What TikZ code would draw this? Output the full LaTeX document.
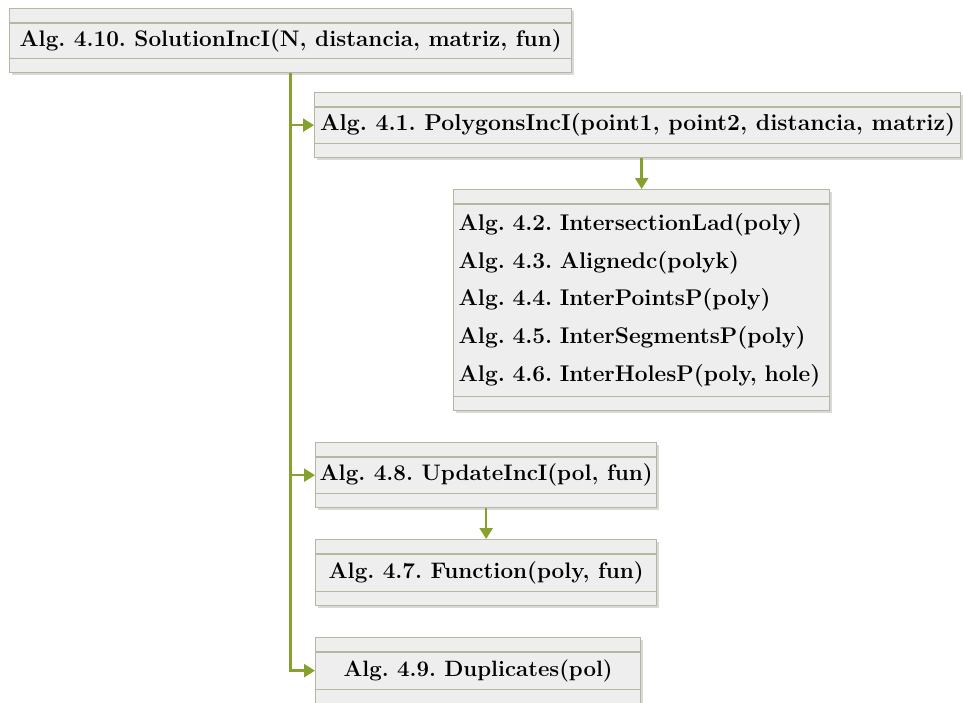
\documentclass[tikz,border=0pt]{standalone}
\usepackage{fontspec}
\usepackage{graphicx}
\usetikzlibrary{arrows.meta,shadows}
\definecolor{boxfill}{HTML}{EEEEEE}
\definecolor{boxline}{HTML}{B4B89E}
\definecolor{linkgreen}{HTML}{86A12E}
\tikzset{
  algbox/.style={draw=boxline, line width=1.3pt, fill=boxfill, rectangle,
    anchor=north west, inner sep=0pt,
    drop shadow={shadow xshift=2pt, shadow yshift=-2.5pt, opacity=0.25, fill=black!60},
    font=\fontsize{22.5}{27}\selectfont\bfseries\frenchspacing},
  divider/.style={draw=boxline, line width=1.3pt},
  link/.style={draw=linkgreen, line width=2.4pt,
    -{Triangle[length=11pt, width=13pt]}}
}
% a one-line label set to a given width
\newcommand{\fitlabel}[2]{\resizebox{#1}{!}{#2}}
% the two empty bands at the top and bottom of a box
\newcommand{\bands}[1]{%
  \draw[divider] ([yshift=-15pt]#1.north west) -- ([yshift=-15pt]#1.north east);
  \draw[divider] ([yshift=15pt]#1.south west) -- ([yshift=15pt]#1.south east);}
\begin{document}
\begin{tikzpicture}[x=1pt,y=-1pt]
  \useasboundingbox (0,0) rectangle (963,702);

  % boxes
  \node[algbox, minimum width=562pt, minimum height=64pt] (b1) at (9,8)
    {\fitlabel{542pt}{Alg. 4.10. SolutionIncI(N, distancia, matriz, fun)}};
  \node[algbox, minimum width=646pt, minimum height=65pt] (b2) at (314,92)
    {\fitlabel{635pt}{Alg. 4.1. PolygonsIncI(point1, point2, distancia, matriz)}};
  \node[algbox, minimum width=376pt, minimum height=221pt, align=left,
        text width=366pt, inner xsep=5pt,
        font=\fontsize{22.7}{37.7}\selectfont\bfseries\frenchspacing] (b3) at (453,189)
    {Alg. 4.2. IntersectionLad(poly)\\
     Alg. 4.3. Alignedc(polyk)\\
     Alg. 4.4. InterPointsP(poly)\\
     Alg. 4.5. InterSegmentsP(poly)\\
     Alg. 4.6. InterHolesP(poly, hole)};
  \node[algbox, minimum width=341pt, minimum height=65pt] (b4) at (315,442)
    {\fitlabel{333pt}{Alg. 4.8. UpdateIncI(pol, fun)}};
  \node[algbox, minimum width=341pt, minimum height=66pt] (b5) at (315,539)
    {\fitlabel{315pt}{Alg. 4.7. Function(poly, fun)}};
  \node[algbox, minimum width=325pt, minimum height=66pt] (b6) at (315,637)
    {\fitlabel{269pt}{Alg. 4.9. Duplicates(pol)}};

  \bands{b1}\bands{b2}\bands{b3}\bands{b4}\bands{b5}\bands{b6}

  % connectors
  \draw[link] (b1.south) |- (b2.west);
  \draw[link] (b1.south) |- (b4.west);
  \draw[link] (b1.south) |- (b6.west);
  \draw[link] (b3.north |- b2.south) -- (b3.north);
  \draw[link] (b4.south) -- (b5.north);
\end{tikzpicture}
\end{document}
